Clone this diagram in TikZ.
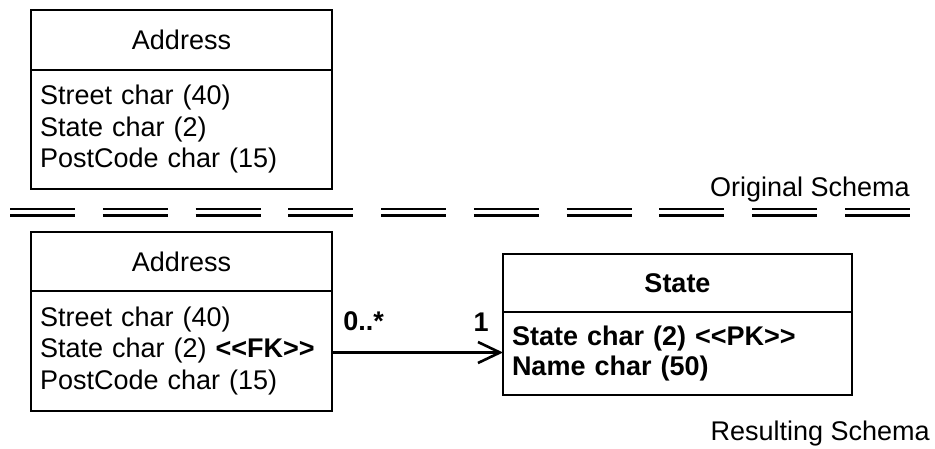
\documentclass[tikz,border=0pt]{standalone}
\usepackage{fontspec}
\setmainfont{Liberation Sans}
\usetikzlibrary{arrows.meta,positioning}

\begin{document}
\begin{tikzpicture}[x=1pt,y=-1pt,
  boxline/.style={draw,line width=2.6pt,outer sep=0pt},
  clshead/.style={boxline,inner sep=0pt,font=\fontsize{27}{32}\selectfont},
  clsbody/.style={boxline,inner xsep=9pt,inner ysep=0pt,align=left,font=\fontsize{27}{31.5}\selectfont},
  mult/.style={inner sep=0pt,font=\fontsize{27}{32}\selectfont\bfseries}]
\useasboundingbox (0,0) rectangle (935,448);
\node[clshead,minimum width=301pt,minimum height=60pt] (oldHead) at (181.5,40){Address};
\node[clsbody,text width=283pt,minimum height=119pt,below=0pt of oldHead] (oldBody)
  {Street char (40)\\State char (2)\\PostCode char (15)};
\node[anchor=base east,inner sep=0pt,font=\fontsize{27}{32}\selectfont] (origLbl) at (910,196){Original Schema};
\foreach \y in {209,215.5}{
  \draw[line width=2.6pt,dash pattern=on 65pt off 27.78pt] (10,\y)--(910,\y);}
\node[clshead,minimum width=301pt,minimum height=59pt] (newHead) at (181.5,261.5){Address};
\node[clsbody,text width=283pt,minimum height=120pt,below=0pt of newHead] (newBody)
  {Street char (40)\\State char (2) \textbf{<{}<FK>{}>}\\PostCode char (15)};
\node[clshead,minimum width=349pt,minimum height=58pt,font=\fontsize{27}{32}\selectfont\bfseries] (stateHead) at (677.5,283){State};
\node[clsbody,text width=331pt,minimum height=83pt,below=0pt of stateHead,font=\fontsize{27}{30}\selectfont\bfseries] (stateBody)
  {State char (2) <{}<PK>{}>\\Name char (50)};
\draw[line width=2.6pt,-{Straight Barb[length=22pt,width=21pt]}] ([yshift=-1.5pt]newBody.east) -- ([yshift=-1.5pt]newBody.east -| stateBody.west)
  node[mult,pos=0,anchor=south west,xshift=10pt,yshift=20pt]{0..*}
  node[mult,pos=1,anchor=south east,xshift=-13pt,yshift=20pt]{1};
\node[anchor=base east,inner sep=0pt,font=\fontsize{27}{32}\selectfont] (resLbl) at (930,440){Resulting Schema};
\end{tikzpicture}
\end{document}
